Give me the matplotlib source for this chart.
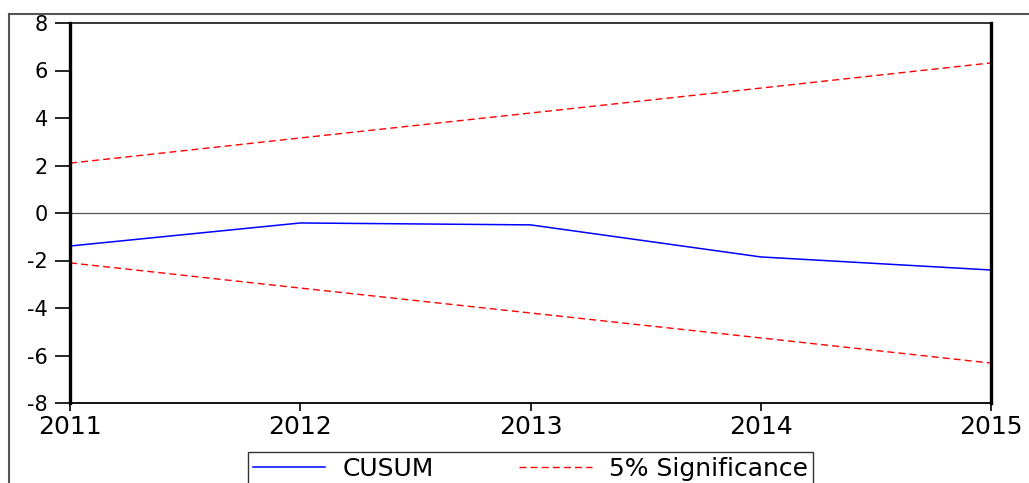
import matplotlib.pyplot as plt
from matplotlib.lines import Line2D

plt.rcParams['font.family'] = ['DejaVu Sans']
plt.rcParams['axes.unicode_minus'] = False

# Données
years = [2011, 2012, 2013, 2014, 2015]
cusum = [-1.39, -0.42, -0.50, -1.85, -2.40]
upper = [2.10, 3.16, 4.21, 5.26, 6.32]
lower = [-2.10, -3.16, -4.21, -5.26, -6.32]

fig = plt.figure(figsize=(10.29, 4.83), dpi=100)
ax = fig.add_axes([70 / 1029, 1 - 403 / 483, 921 / 1029, 380 / 483])

ax.axhline(0, color='#555555', linewidth=0.9, zorder=1)
ax.plot(years, cusum, color='blue', linewidth=1.1, label='CUSUM')
ax.plot(years, upper, color='red', linestyle=(0, (5, 3)), linewidth=1.0, label='5% Significance')
ax.plot(years, lower, color='red', linestyle=(0, (5, 3)), linewidth=1.0)

ax.set_xlim(2011, 2015)
ax.set_ylim(-8, 8)
ax.set_xticks(years)
ax.set_yticks(range(-8, 9, 2))
ax.tick_params(axis='y', direction='out', length=11, width=1.2, labelsize=15, pad=5)
ax.tick_params(axis='x', direction='out', length=6, width=1.2, labelsize=18, pad=3)

for side in ['left', 'right']:
    ax.spines[side].set_linewidth(2.4)
ax.spines['bottom'].set_linewidth(1.3)
ax.spines['top'].set_linewidth(1.1)

leg = ax.legend(loc='upper center', bbox_to_anchor=(0.5, -0.128), ncol=2,
                frameon=True, fancybox=False, edgecolor='black', fontsize=18,
                handlelength=2.9, handletextpad=0.7, columnspacing=3.4,
                borderpad=0.2, borderaxespad=0)
leg.get_frame().set_linewidth(1.0)

# Cadre extérieur
fig.add_artist(Line2D([9 / 1029, 9 / 1029], [0, 1 - 14 / 483], color='#555555', linewidth=1.5))
fig.add_artist(Line2D([9 / 1029, 1], [1 - 14 / 483, 1 - 14 / 483], color='#555555', linewidth=1.5))

plt.savefig('out.png', dpi=100)
